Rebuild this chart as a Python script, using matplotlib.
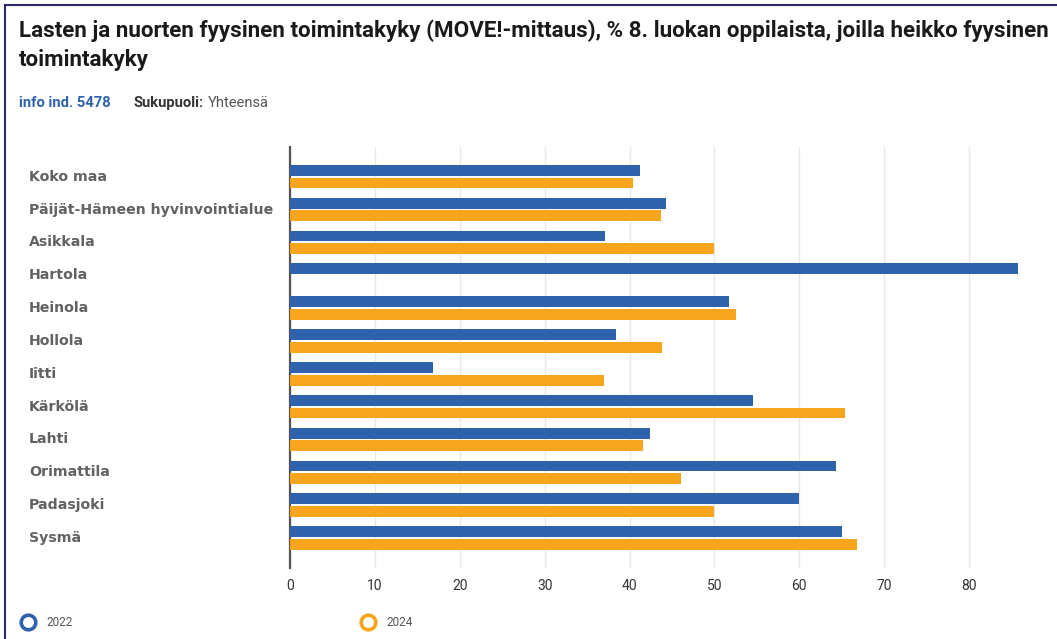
import matplotlib
matplotlib.use("Agg")
import matplotlib.pyplot as plt
from matplotlib.lines import Line2D
import numpy as np

categories = ["Koko maa", "Päijät-Hämeen hyvinvointialue", "Asikkala", "Hartola",
              "Heinola", "Hollola", "Iitti", "Kärkölä", "Lahti", "Orimattila",
              "Padasjoki", "Sysmä"]
values_2022 = [41.2, 44.3, 37.1, 85.8, 51.7, 38.4, 16.9, 54.5, 42.4, 64.3, 60.0, 65.0]
values_2024 = [40.4, 43.7, 50.0, None, 52.6, 43.8, 37.0, 65.4, 41.6, 46.1, 50.0, 66.8]
series_names = ["2022", "2024"]
x_ticks = [0, 10, 20, 30, 40, 50, 60, 70, 80]

title = "Lasten ja nuorten fyysinen toimintakyky (MOVE!-mittaus), % 8. luokan oppilaista, joilla heikko fyysinen\ntoimintakyky"

BLUE = "#2f62ab"
ORANGE = "#f8a51e"
W, H = 1057, 639

fig = plt.figure(figsize=(W / 100, H / 100), dpi=100)

def px(x, y):
    return x / W, 1 - y / H

# Axes in pixel coordinates
ax_left, ax_right, ax_top, ax_bottom = 290, 1020, 147, 568
ax = fig.add_axes([ax_left / W, 1 - ax_bottom / H, (ax_right - ax_left) / W, (ax_bottom - ax_top) / H])

y = np.arange(len(categories))
off = 0.193
h = 0.33
v22 = np.array([np.nan if v is None else v for v in values_2022], dtype=float)
v24 = np.array([np.nan if v is None else v for v in values_2024], dtype=float)
ax.barh(y - off, np.nan_to_num(v22), height=h, color=BLUE, edgecolor="none", zorder=3)
ax.barh(y + off, np.nan_to_num(v24), height=h, color=ORANGE, edgecolor="none", zorder=3)

ax.set_xlim(0, 86)
ax.set_ylim(11.913, -0.904)
ax.set_xticks(x_ticks)
ax.set_xticklabels([str(t) for t in x_ticks], fontfamily="Roboto", fontsize=10, color="#333333")
ax.tick_params(axis="x", length=0, pad=8)
ax.set_yticks([])
for s in ["top", "right", "bottom"]:
    ax.spines[s].set_visible(False)
ax.spines["left"].set_color("#555555")
ax.spines["left"].set_linewidth(1.6)
ax.grid(axis="x", color="#e8e8e8", linewidth=1, zorder=0)
ax.set_axisbelow(True)

# category labels
xscale = 86 / (ax_right - ax_left)
for i, c in enumerate(categories):
    ax.text(-(ax_left - 29) * xscale, i, c, ha="left", va="center", fontsize=10.15,
            fontweight="bold", color="#626262", fontfamily="DejaVu Sans")

# Title
lines = title.split("\n")
fig.text(*px(19, 31), lines[0], ha="left", va="center", fontsize=16.1,
         fontweight="bold", color="#1a1a1a", fontfamily="Roboto")
fig.text(*px(19, 60), lines[1], ha="left", va="center", fontsize=16.1,
         fontweight="bold", color="#1a1a1a", fontfamily="Roboto")

# Subtitle
fig.text(*px(19, 103), "info ind. 5478", ha="left", va="center", fontsize=10.6,
         fontweight="bold", color="#2f62ab", fontfamily="Roboto")
fig.text(*px(133, 103), "Sukupuoli:", ha="left", va="center", fontsize=10.6,
         fontweight="bold", color="#333333", fontfamily="Roboto")
fig.text(*px(208, 103), "Yhteensä", ha="left", va="center", fontsize=10.6,
         color="#555555", fontfamily="Roboto")

# Legend
for name, col, xm in [(series_names[0], BLUE, 28), (series_names[1], ORANGE, 367.5)]:
    fig.add_artist(Line2D([xm / W], [1 - 622 / H], marker="o", markersize=10.5,
                          markerfacecolor="white", markeredgecolor=col, markeredgewidth=2.6,
                          linestyle="none", transform=fig.transFigure))
    fig.text((xm + 18.5) / W, 1 - 622 / H, name, ha="left", va="center", fontsize=8.5,
             color="#555555", fontfamily="Roboto")

# border
fig.add_artist(Line2D([5 / W, 5 / W], [0, 1 - 5 / H], color="#2b2a6b", linewidth=1.5,
                      transform=fig.transFigure))
fig.add_artist(Line2D([5 / W, 1], [1 - 5 / H, 1 - 5 / H], color="#2b2a6b", linewidth=1.5,
                      transform=fig.transFigure))

fig.savefig("out.png", dpi=100)
